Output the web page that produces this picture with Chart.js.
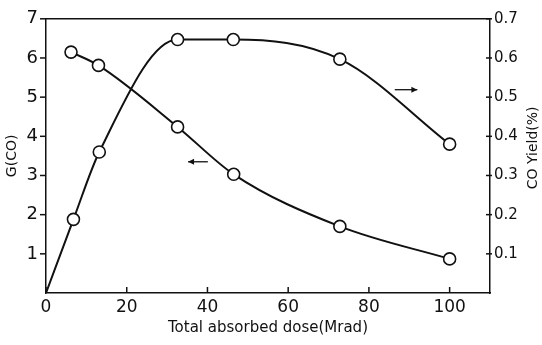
<!DOCTYPE html>
<html>
<head>
<meta charset="utf-8">
<script src="https://cdn.jsdelivr.net/npm/chart.js@4"></script>
<style>
  html, body { margin: 0; padding: 0; background: #fff; }
  #wrap { width: 542px; height: 345px; }
</style>
</head>
<body>
<div id="wrap"><canvas id="chart_co" width="542" height="345"></canvas></div>
<script>
// G(CO) values (left axis)
const doseG = [6.2, 13, 32.6, 46.5, 72.8, 100];
const gCO = [6.15, 5.81, 4.24, 3.03, 1.70, 0.87];

// CO yield in % (right axis), curve starts at the origin
const doseYield = [0, 6.8, 13.2, 32.6, 46.4, 72.8, 100];
const coYield = [0, 0.188, 0.36, 0.647, 0.647, 0.597, 0.38];

const xTicks = [0, 20, 40, 60, 80, 100];
const gTicks = [1, 2, 3, 4, 5, 6, 7];
const yieldTicks = [0.1, 0.2, 0.3, 0.4, 0.5, 0.6, 0.7];

const ink = "#111";
const fontFam = "'DejaVu Sans', sans-serif";

function seg(ctx, x1, y1, x2, y2) {
  ctx.beginPath();
  ctx.moveTo(x1, y1);
  ctx.lineTo(x2, y2);
  ctx.stroke();
}

function arrow(ctx, x1, x2, y) {
  const dir = Math.sign(x2 - x1);
  seg(ctx, x1, y, x2, y);
  ctx.beginPath();
  ctx.moveTo(x2, y);
  ctx.lineTo(x2 - dir * 6, y - 3);
  ctx.lineTo(x2 - dir * 6, y + 3);
  ctx.closePath();
  ctx.fill();
}

// top border, tick marks, arrows and the right axis title
const frame = {
  id: "frame",
  afterDraw(chart) {
    const { ctx, chartArea: a, scales } = chart;
    ctx.save();
    ctx.strokeStyle = ink;
    ctx.fillStyle = ink;
    ctx.lineWidth = 1.5;
    seg(ctx, a.left, a.top, a.right, a.top);

    xTicks.forEach((v) => {
      const px = scales.x.getPixelForValue(v);
      seg(ctx, px, a.bottom, px, a.bottom - 6);
    });
    gTicks.forEach((v) => {
      const py = scales.y.getPixelForValue(v);
      seg(ctx, a.left - 6, py, a.left, py);
    });
    yieldTicks.forEach((v) => {
      const py = scales.y2.getPixelForValue(v);
      seg(ctx, a.right - 4, py, a.right + 2, py);
    });

    ctx.lineWidth = 1.3;
    arrow(ctx, scales.x.getPixelForValue(40.1), scales.x.getPixelForValue(35.2), scales.y.getPixelForValue(3.35));
    arrow(ctx, scales.x.getPixelForValue(86.4), scales.x.getPixelForValue(92), scales.y.getPixelForValue(5.19));

    ctx.translate(533, (a.top + a.bottom) / 2 - 8);
    ctx.rotate(-Math.PI / 2);
    ctx.font = "14px " + fontFam;
    ctx.textAlign = "center";
    ctx.textBaseline = "middle";
    ctx.fillText("CO Yield(%)", 0, 0);
    ctx.restore();
  },
};

const chart_co = new Chart(document.getElementById("chart_co"), {
  type: "line",
  data: {
    datasets: [
      {
        label: "G(CO)",
        data: doseG.map((x, i) => ({ x, y: gCO[i] })),
        yAxisID: "y",
        borderColor: ink,
        borderWidth: 2,
        cubicInterpolationMode: "monotone",
        pointRadius: 6,
        pointBorderWidth: 1.6,
        pointBorderColor: ink,
        pointBackgroundColor: "#fff",
      },
      {
        label: "CO Yield(%)",
        data: doseYield.map((x, i) => ({ x, y: coYield[i] })),
        yAxisID: "y2",
        borderColor: ink,
        borderWidth: 2,
        cubicInterpolationMode: "monotone",
        pointRadius: doseYield.map((x) => (x === 0 ? 0 : 6)),
        pointBorderWidth: 1.6,
        pointBorderColor: ink,
        pointBackgroundColor: "#fff",
      },
    ],
  },
  options: {
    responsive: false,
    animation: false,
    layout: { padding: { top: 11, left: 0, right: 0, bottom: 0 } },
    plugins: {
      legend: { display: false },
      tooltip: { enabled: false },
    },
    scales: {
      x: {
        type: "linear",
        min: 0,
        max: 110,
        afterFit: (s) => { s.height = 52; },
        afterBuildTicks: (s) => { s.ticks = xTicks.map((v) => ({ value: v })); },
        grid: { display: false, drawTicks: false },
        border: { display: true, color: ink, width: 1.5 },
        ticks: {
          padding: 4,
          color: ink,
          font: { family: fontFam, size: 17 },
          maxRotation: 0,
          autoSkip: false,
        },
        title: {
          display: true,
          text: "Total absorbed dose(Mrad)",
          color: ink,
          font: { family: fontFam, size: 15 },
          padding: { top: 0, bottom: 8 },
        },
      },
      y: {
        position: "left",
        min: 0,
        max: 7,
        afterFit: (s) => { s.width = 46; },
        grid: { display: false, drawTicks: false },
        border: { display: true, color: ink, width: 1.5 },
        ticks: {
          stepSize: 1,
          padding: 8,
          color: ink,
          font: { family: fontFam, size: 18 },
          callback: (v) => (v === 0 ? "" : v),
        },
        title: {
          display: true,
          text: "G(CO)",
          color: ink,
          font: { family: fontFam, size: 14 },
          padding: { top: 4, bottom: 0 },
        },
      },
      y2: {
        position: "right",
        min: 0,
        max: 0.7,
        afterFit: (s) => { s.width = 52; },
        grid: { display: false, drawTicks: false },
        border: { display: true, color: ink, width: 1.5 },
        ticks: {
          stepSize: 0.1,
          padding: 4,
          color: ink,
          font: { family: fontFam, size: 15 },
          callback: (v) => (v < 0.05 ? "" : v.toFixed(1)),
        },
      },
    },
  },
  plugins: [frame],
});
</script>
</body>
</html>
